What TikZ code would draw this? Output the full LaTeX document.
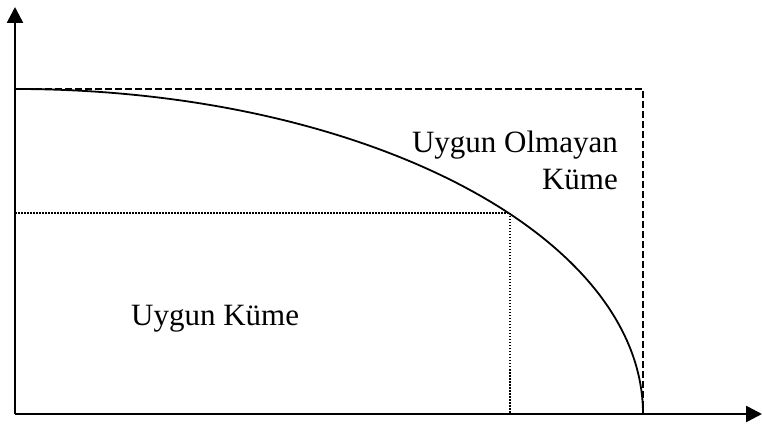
\documentclass[tikz,border=0pt]{standalone}
\usepackage{fontspec}
\setmainfont{Liberation Serif}
\usetikzlibrary{arrows.meta}
\begin{document}
\begin{tikzpicture}[x=1pt,y=1pt,
  axisline/.style={line width=2.6pt,-{Triangle[width=16pt,length=16pt]}},
  curveline/.style={line width=1.8pt},
  dashline/.style={line width=1.3pt,dash pattern=on 7pt off 3pt},
  dotline/.style={line width=1.3pt,dash pattern=on 1.5pt off 1.5pt},
  lbl/.style={inner sep=0pt,font=\fontsize{31}{37}\selectfont}]
\useasboundingbox (0,0) rectangle (763,428);
\coordinate (O) at (15,14);
\coordinate (Ytip) at (15,421);
\coordinate (Xtip) at (762,14);
\coordinate (Top) at (15,339);
\coordinate (Corner) at (643,339);
\coordinate (Xend) at (643,14);
\coordinate (P) at (510,215);
\coordinate (Py) at (15,215);
\coordinate (Px) at (510,14);
\draw[dotline] (Py) -- (P) -- (Px);
\draw[dashline] (Top) -- (Corner) -- (Xend);
\draw[curveline] (Top) arc[start angle=90,end angle=0,x radius=628,y radius=325];
\draw[axisline] (O) -- (Ytip);
\draw[axisline] (O) -- (Xtip);
\node[lbl,anchor=base east] (t1) at (618,275) {Uygun Olmayan};
\node[lbl,anchor=base east] (t2) at (618,238) {Küme};
\node[lbl,anchor=base west] (t3) at (131,102) {Uygun Küme};
\end{tikzpicture}
\end{document}
